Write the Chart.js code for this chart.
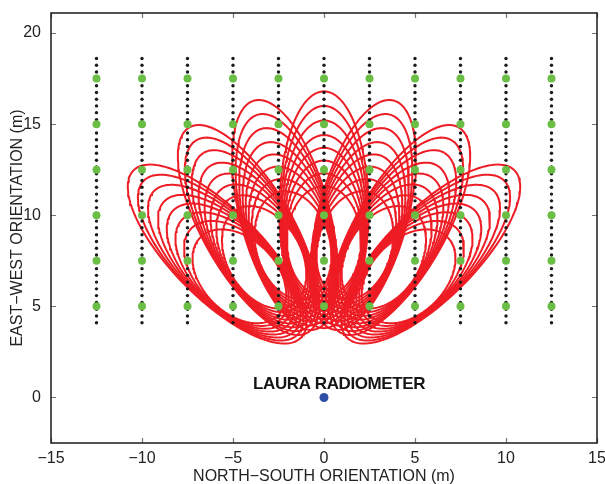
<!DOCTYPE html>
<html>
<head>
<meta charset="utf-8">
<script src="https://cdn.jsdelivr.net/npm/chart.js@4.4.0/dist/chart.umd.min.js"></script>
<style>
  html, body { margin: 0; padding: 0; background: #fff; }
  canvas { display: block; }
</style>
</head>
<body>
<canvas id="footprintChart" width="605" height="484"></canvas>
<script>
var fontFamily = "'Liberation Sans', Arial, Helvetica, sans-serif"
var textColor = '#222'

// axis ticks
var xTicks = [-15, -10, -5, 0, 5, 10, 15]
var yTicks = [0, 5, 10, 15, 20]

// sampling columns (m) and the probe positions along each of them
var columnX = [-12.5, -10, -7.5, -5, -2.5, 0, 2.5, 5, 7.5, 10, 12.5]
var probeY = [4.10, 4.47, 4.84, 5.22, 5.59, 5.96, 6.33, 6.70, 7.07, 7.45,
              7.82, 8.19, 8.56, 8.93, 9.31, 9.68, 10.05, 10.42, 10.79, 11.16,
              11.54, 11.91, 12.28, 12.65, 13.02, 13.40, 13.77, 14.14, 14.51, 14.88,
              15.25, 15.63, 16.00, 16.37, 16.74, 17.11, 17.49, 17.86, 18.23, 18.60]
var sampleY = [5, 7.5, 10, 12.5, 15, 17.5]

// radiometer position
var radiometerX = [0]
var radiometerY = [0]

// footprints: the beams fan out from beamOrigin at these azimuths (deg from the y axis);
// per contour: near / far edge along the beam (m) and half width across it (m)
var beamOrigin = [0, 2.0]
var beamAzimuth = [-45, -30, -15, 0, 15, 30, 45]
var footprintNear = [1.8, 2.05, 2.3, 2.55, 2.8, 3.05, 3.3, 3.55]
var footprintFar = [14.8, 14.0, 13.2, 12.4, 11.7, 11.0, 10.3, 9.6]
var footprintHalfWidth = [2.45, 2.39, 2.33, 2.27, 2.21, 2.15, 2.09, 2.03]

function footprintOutline(azDeg, near, far, halfWidth) {
    var az = azDeg * Math.PI / 180
    var c = (near + far) / 2
    var a = (far - near) / 2
    var pts = []
    for (var i = 0; i <= 160; i++) {
        var t = i / 160 * 2 * Math.PI
        var u = c + a * Math.cos(t)
        var v = halfWidth * Math.sin(t)
        pts.push({
            x: beamOrigin[0] + u * Math.sin(az) + v * Math.cos(az),
            y: beamOrigin[1] + u * Math.cos(az) - v * Math.sin(az)
        })
    }
    return pts
}

function minusLabel(value) {
    return value < 0 ? '\u2212' + Math.abs(value) : String(value)
}

var datasets = []

beamAzimuth.forEach(function (az) {
    footprintFar.forEach(function (far, k) {
        datasets.push({
            data: footprintOutline(az, footprintNear[k], far, footprintHalfWidth[k]),
            showLine: true,
            borderColor: '#ee1c24',
            borderWidth: 2,
            pointRadius: 0,
            fill: false,
            order: 3
        })
    })
})

var probePoints = []
columnX.forEach(function (x) {
    probeY.forEach(function (y) { probePoints.push({x: x, y: y}) })
})
datasets.push({
    data: probePoints,
    pointRadius: 1.7,
    pointBackgroundColor: '#1b1b1b',
    pointBorderWidth: 0,
    order: 2
})

var samplePoints = []
columnX.forEach(function (x) {
    sampleY.forEach(function (y) { samplePoints.push({x: x, y: y}) })
})
datasets.push({
    data: samplePoints,
    pointRadius: 4,
    pointBackgroundColor: '#6abd45',
    pointBorderWidth: 0,
    order: 1
})

datasets.push({
    data: radiometerX.map(function (x, i) { return {x: x, y: radiometerY[i]} }),
    pointRadius: 4.5,
    pointBackgroundColor: '#2f4fa6',
    pointBorderWidth: 0,
    order: 0
})

// frame with inward ticks, matlab style
var framePlugin = {
    id: 'frame',
    afterDraw: function (chart) {
        var ctx = chart.ctx
        var area = chart.chartArea
        var xs = chart.scales.x, ys = chart.scales.y
        ctx.save()
        ctx.strokeStyle = '#777'
        ctx.lineWidth = 1.2
        ctx.beginPath()
        xTicks.forEach(function (v) {
            var px = Math.round(xs.getPixelForValue(v)) + 0.5
            ctx.moveTo(px, area.bottom); ctx.lineTo(px, area.bottom - 5)
            ctx.moveTo(px, area.top); ctx.lineTo(px, area.top + 5)
        })
        yTicks.forEach(function (v) {
            var py = Math.round(ys.getPixelForValue(v)) + 0.5
            ctx.moveTo(area.left, py); ctx.lineTo(area.left + 5, py)
            ctx.moveTo(area.right, py); ctx.lineTo(area.right - 5, py)
        })
        ctx.stroke()
        ctx.strokeStyle = '#1a1a1a'
        ctx.lineWidth = 1.5
        ctx.strokeRect(area.left, area.top, area.right - area.left, area.bottom - area.top)
        ctx.restore()
    }
}

var labelPlugin = {
    id: 'radiometerLabel',
    afterDatasetsDraw: function (chart) {
        var ctx = chart.ctx
        ctx.save()
        ctx.font = 'bold 17px ' + fontFamily
        if ('letterSpacing' in ctx) ctx.letterSpacing = '-0.4px'
        ctx.fillStyle = '#151515'
        ctx.textAlign = 'left'
        ctx.textBaseline = 'middle'
        ctx.fillText('LAURA RADIOMETER', chart.scales.x.getPixelForValue(-3.9), chart.scales.y.getPixelForValue(0.72))
        ctx.restore()
    }
}

new Chart(document.getElementById('footprintChart'), {
    type: 'scatter',
    data: {datasets: datasets},
    options: {
        responsive: false,
        animation: false,
        layout: {padding: {top: 13, right: 8, left: 0, bottom: 0}},
        plugins: {
            legend: {display: false},
            tooltip: {enabled: false}
        },
        scales: {
            x: {
                type: 'linear',
                min: -15,
                max: 15,
                afterBuildTicks: function (s) { s.ticks = xTicks.map(function (v) { return {value: v} }) },
                afterFit: function (s) {
                    s.height = 41
                    s.paddingLeft = 0; s.paddingRight = 0
                },
                grid: {display: false, drawTicks: false},
                border: {display: false},
                ticks: {
                    color: textColor,
                    padding: 6,
                    maxRotation: 0,
                    autoSkip: false,
                    font: {size: 16, family: fontFamily},
                    callback: minusLabel
                },
                title: {
                    display: true,
                    text: 'NORTH\u2212SOUTH ORIENTATION (m)',
                    color: textColor,
                    font: {size: 16, family: fontFamily, lineHeight: 1},
                    padding: {top: 0, bottom: -1}
                }
            },
            y: {
                type: 'linear',
                min: -2.5,
                max: 21.1,
                afterBuildTicks: function (s) { s.ticks = yTicks.map(function (v) { return {value: v} }) },
                afterFit: function (s) {
                    s.width = 51
                    s.paddingTop = 0; s.paddingBottom = 0
                },
                grid: {display: false, drawTicks: false},
                border: {display: false},
                ticks: {
                    color: textColor,
                    padding: 10,
                    autoSkip: false,
                    font: {size: 16, family: fontFamily},
                    callback: minusLabel
                },
                title: {
                    display: true,
                    text: 'EAST\u2212WEST ORIENTATION (m)',
                    color: textColor,
                    font: {size: 16, family: fontFamily, lineHeight: 1},
                    padding: {top: 9.5, bottom: 0}
                }
            }
        }
    },
    plugins: [framePlugin, labelPlugin]
});
</script>
</body>
</html>
